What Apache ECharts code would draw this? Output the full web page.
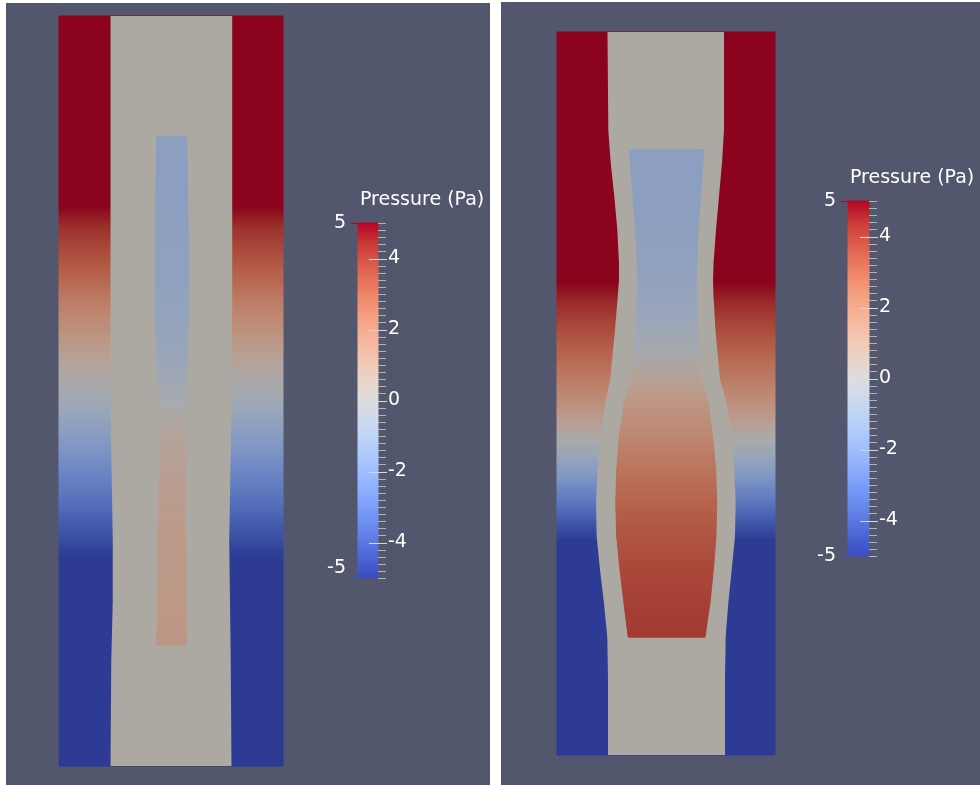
<!DOCTYPE html>
<html><head><meta charset="utf-8">
<script src="https://cdn.jsdelivr.net/npm/echarts@6/dist/echarts.min.js"></script>
<style>html,body{margin:0;padding:0;background:#fff}#c{width:980px;height:785px}</style>
</head><body><div id="c"></div>
<script>
// ---------------- data (domain units: x 0..3, y 0..10) ----------------
// Left case: pressure in the outer solid, by height
const leftOuterY = [10, 7.45, 7.2, 7.0, 6.8, 6.6, 6.4, 6.2, 6.0, 5.8, 5.6, 5.4, 5.2, 5.0, 4.8, 4.6, 4.4, 4.2, 4.0, 3.8, 3.6, 3.4, 3.2, 3.0, 2.8, 0];
const leftOuterP = [5, 5, 4.4, 4.0, 3.6, 3.2, 2.8, 2.3, 1.9, 1.5, 1.1, 0.6, 0.2, -0.2, -0.6, -1.1, -1.5, -1.9, -2.4, -2.8, -3.2, -3.6, -4.1, -4.5, -5, -5];
// Left case: channel walls
const leftWallY = [10, 5.15, 4.2, 3.0, 2.2, 1.4, 0];
const leftWallL = [0.69, 0.69, 0.70, 0.72, 0.72, 0.70, 0.69];
const leftWallR = [2.32, 2.32, 2.30, 2.28, 2.29, 2.30, 2.31];
// Left case: inner body
const leftInnerY = [8.39, 7.81, 7.15, 6.48, 5.95, 5.48, 5.15, 4.81, 4.48, 3.95, 3.28, 2.48, 1.61];
const leftInnerL = [1.31, 1.30, 1.29, 1.29, 1.29, 1.31, 1.32, 1.34, 1.35, 1.35, 1.33, 1.32, 1.31];
const leftInnerR = [1.71, 1.72, 1.73, 1.74, 1.73, 1.72, 1.71, 1.69, 1.69, 1.69, 1.69, 1.70, 1.71];
const leftInnerP = [-1.3, -1.3, -1.25, -1.15, -1.0, -0.8, -0.5, -0.1, 0.4, 0.8, 1.05, 1.2, 1.25];

// Right case: outer solid
const rightOuterY = [10, 6.53, 6.29, 6.02, 5.74, 5.46, 5.19, 4.91, 4.63, 4.36, 4.08, 3.80, 3.53, 3.25, 2.97, 0];
const rightOuterP = [5, 5, 4.5, 4.0, 3.4, 2.9, 2.3, 1.7, 0.9, 0.0, -1.0, -2.0, -3.0, -4.0, -5, -5];
// Right case: channel walls
const rightWallY = [10, 8.64, 8.19, 7.72, 7.26, 6.80, 6.57, 6.33, 5.88, 5.42, 5.19, 4.87, 4.40, 3.94, 3.49, 3.02, 2.56, 2.10, 1.63, 1.04, 0];
const rightWallL = [0.695, 0.706, 0.739, 0.789, 0.830, 0.853, 0.853, 0.835, 0.798, 0.753, 0.733, 0.661, 0.601, 0.555, 0.537, 0.546, 0.592, 0.647, 0.692, 0.702, 0.702];
const rightWallR = [2.298, 2.298, 2.271, 2.229, 2.188, 2.154, 2.147, 2.154, 2.181, 2.222, 2.243, 2.335, 2.404, 2.440, 2.459, 2.449, 2.404, 2.357, 2.321, 2.312, 2.312];
// Right case: inner body
const rightInnerY = [8.37, 7.95, 7.50, 7.03, 6.57, 6.11, 5.64, 5.19, 4.87, 4.40, 3.94, 3.49, 3.02, 2.56, 2.10, 1.73, 1.63];
const rightInnerL = [0.995, 1.028, 1.064, 1.097, 1.105, 1.097, 1.064, 1.028, 0.922, 0.857, 0.822, 0.808, 0.822, 0.867, 0.922, 0.967, 0.981];
const rightInnerR = [2.023, 1.991, 1.958, 1.931, 1.922, 1.931, 1.958, 1.991, 2.082, 2.143, 2.184, 2.198, 2.188, 2.151, 2.105, 2.050, 2.037];
const rightInnerP = [-1.3, -1.3, -1.3, -1.2, -1.1, -0.8, -0.3, 0.7, 1.3, 1.9, 2.6, 3.1, 3.5, 3.8, 4.0, 4.1, 4.1];

// Colour bar
const barLevels = [5, 4.5, 4, 3.5, 3, 2.5, 2, 1.5, 1, 0.5, 0, -0.5, -1, -1.5, -2, -2.5, -3, -3.5, -4, -4.5, -5];
const majorTicks = [-4, -2, 0, 2, 4];
const MINOR_STEP = 0.2;
const rangeEnds = [5, -5];
const barTitle = 'Pressure (Pa)';

// ---------------- styling ----------------
const coolWarm = ['#3b4cc0','#4d68d7','#6282ea','#779af7','#8db0fe','#a3c2ff','#b8d0f9','#ccd9ee','#dddddd',
                  '#ecd3c5','#f5c4ad','#f7b194','#f49a7b','#ec7f63','#de604d','#cb3e38','#b40426'];
function dim(hex, f) {
  const n = parseInt(hex.slice(1), 16);
  const r = Math.round(((n >> 16) & 255) * f), g = Math.round(((n >> 8) & 255) * f), b = Math.round((n & 255) * f);
  return 'rgb(' + r + ',' + g + ',' + b + ')';
}
const SHADE = 0.77;
const fieldColors = coolWarm.map(c => dim(c, SHADE));
const BG = '#52576e', FLUID = '#aca9a2', FONT = 'DejaVu Sans', FS = 19;
const DOMAIN_W = 3;
// tick positions of the colour-bar scale
const minorTicks = Array.from({length: Math.round(10 / MINOR_STEP) + 1}, (_, k) => Math.round((-5 + k * MINOR_STEP) * 10) / 10);

function levels(ys, ls, rs, ps) { return ys.map((y, i) => [y, ls[i], rs[i], ps ? ps[i] : 0]); }
function fullWidth(ys, ps) { return ys.map((y, i) => [y, 0, DOMAIN_W, ps[i]]); }

// graded band between consecutive levels
function bandRender(params, api) {
  const i = params.dataIndexInside, n = params.dataInsideLength;
  if (i >= n - 1) return null;
  const y0 = api.value(0), y1 = api.value(0, i + 1);
  const pts = [api.coord([api.value(1), y0]), api.coord([api.value(2), y0]),
               api.coord([api.value(2, i + 1), y1]), api.coord([api.value(1, i + 1), y1])];
  const c0 = api.visual('color'), c1 = api.visual('color', i + 1);
  const fill = c0 === c1 ? c0 : new echarts.graphic.LinearGradient(0, 0, 0, 1, [{offset: 0, color: c0}, {offset: 1, color: c1}]);
  return {type: 'polygon', shape: {points: pts}, style: {fill: fill, stroke: fill, lineWidth: 1}};
}
// one closed outline for the whole channel
function channelRender(params, api) {
  const n = params.dataInsideLength;
  if (params.dataIndexInside !== 0) return null;
  const left = [], right = [];
  for (let j = 0; j < n; j++) {
    left.push(api.coord([api.value(1, j), api.value(0, j)]));
    right.push(api.coord([api.value(2, j), api.value(0, j)]));
  }
  return {type: 'polygon', shape: {points: left.concat(right.reverse())}, style: {fill: api.visual('color')}};
}
// short tick dash at value v on one edge of the colour bar
function tickRender(before, after, color) {
  return function (params, api) {
    const p = api.coord([api.value(1), api.value(0)]);
    const y = Math.round(p[1]) + 0.5;
    return {type: 'line', shape: {x1: p[0] - before, y1: y, x2: p[0] + after, y2: y}, style: {stroke: color, lineWidth: 1}};
  };
}

function fieldSeries(data, xi, yi, color, render) {
  const s = {type: 'custom', xAxisIndex: xi, yAxisIndex: yi, renderItem: render || bandRender, data: data,
             encode: {x: 1, y: 0}, silent: true, animation: false, z: 2};
  if (color) s.itemStyle = {color: color};
  return s;
}
function tickSeries(values, edge, xi, yi, before, after, color) {
  return {type: 'custom', xAxisIndex: xi, yAxisIndex: yi, data: values.map(v => [v, edge]), encode: {x: 1, y: 0},
          renderItem: tickRender(before, after, color), silent: true, animation: false, z: 4};
}

// label axes of one colour bar
function barAxes(g, negAlign) {
  const base = {gridIndex: g, type: 'value', min: -5, max: 5, axisLine: {show: false}, splitLine: {show: false}, axisTick: {show: false}};
  const lbl = {color: '#ffffff', fontSize: FS, fontFamily: FONT};
  return [
    Object.assign({}, base, {position: 'right', axisLabel: Object.assign({show: true, customValues: majorTicks, margin: 10}, lbl)}),
    Object.assign({}, base, {position: 'left', axisLabel: Object.assign({show: true, customValues: [5], margin: 12}, lbl)}),
    Object.assign({}, base, {position: 'left', axisLabel: Object.assign({show: true, customValues: [-5], margin: 12, verticalAlign: negAlign}, lbl)})
  ];
}
function barSeries(xi, yi) {
  return [
    fieldSeries(barLevels.map(v => [v, 0, 1, v]), xi, yi),
    tickSeries(minorTicks, 1, xi, yi, 0, 8, '#b4b4b4'),
    tickSeries(majorTicks, 1, xi, yi, 9, 9, '#d6d6d6'),
    tickSeries(rangeEnds.slice(0, 1), 0, xi, yi, 7, 0, '#b40426'),
    tickSeries(rangeEnds.slice(1), 0, xi, yi, 7, 0, '#3b4cc0')
  ];
}

const hiddenX = (g, max) => ({gridIndex: g, type: 'value', min: 0, max: max, show: false});
const hiddenY = g => ({gridIndex: g, type: 'value', min: 0, max: 10, show: false});
const titleStyle = {color: '#ffffff', fontSize: FS, lineHeight: 22, fontWeight: 'normal', fontFamily: FONT};

const chart = echarts.init(document.getElementById('c'), null, {renderer: 'canvas'});
chart.setOption({
  backgroundColor: '#ffffff',
  animation: false,
  graphic: [
    {type: 'rect', z: -10, shape: {x: 6, y: 3, width: 484, height: 782}, style: {fill: BG}},
    {type: 'rect', z: -10, shape: {x: 501, y: 2, width: 479, height: 783}, style: {fill: BG}}
  ],
  title: [
    {text: barTitle, left: 360, top: 189, padding: 0, textStyle: titleStyle},
    {text: barTitle, left: 850, top: 167, padding: 0, textStyle: titleStyle}
  ],
  grid: [
    {left: 59, top: 16, width: 224, height: 750},
    {left: 557, top: 32, width: 218, height: 723},
    {left: 358, top: 223, width: 20, height: 355},
    {left: 848, top: 201, width: 21, height: 355}
  ],
  xAxis: [hiddenX(0, DOMAIN_W), hiddenX(1, DOMAIN_W), hiddenX(2, 1), hiddenX(3, 1)],
  // y axes: 0,1 fields; 2..4 left bar; 5..7 right bar
  yAxis: [hiddenY(0), hiddenY(1)].concat(barAxes(2, 'bottom'), barAxes(3, 'middle')),
  visualMap: [
    {type: 'continuous', show: false, min: -5, max: 5, dimension: 3, seriesIndex: [0, 2, 3, 5], inRange: {color: fieldColors}},
    {type: 'continuous', show: false, min: -5, max: 5, dimension: 3, seriesIndex: [6, 11], inRange: {color: coolWarm}}
  ],
  series: [
    fieldSeries(fullWidth(leftOuterY, leftOuterP), 0, 0),
    fieldSeries(levels(leftWallY, leftWallL, leftWallR), 0, 0, FLUID, channelRender),
    fieldSeries(levels(leftInnerY, leftInnerL, leftInnerR, leftInnerP), 0, 0),
    fieldSeries(fullWidth(rightOuterY, rightOuterP), 1, 1),
    fieldSeries(levels(rightWallY, rightWallL, rightWallR), 1, 1, FLUID, channelRender),
    fieldSeries(levels(rightInnerY, rightInnerL, rightInnerR, rightInnerP), 1, 1)
  ].concat(barSeries(2, 2), barSeries(3, 5))
});
</script></body></html>
